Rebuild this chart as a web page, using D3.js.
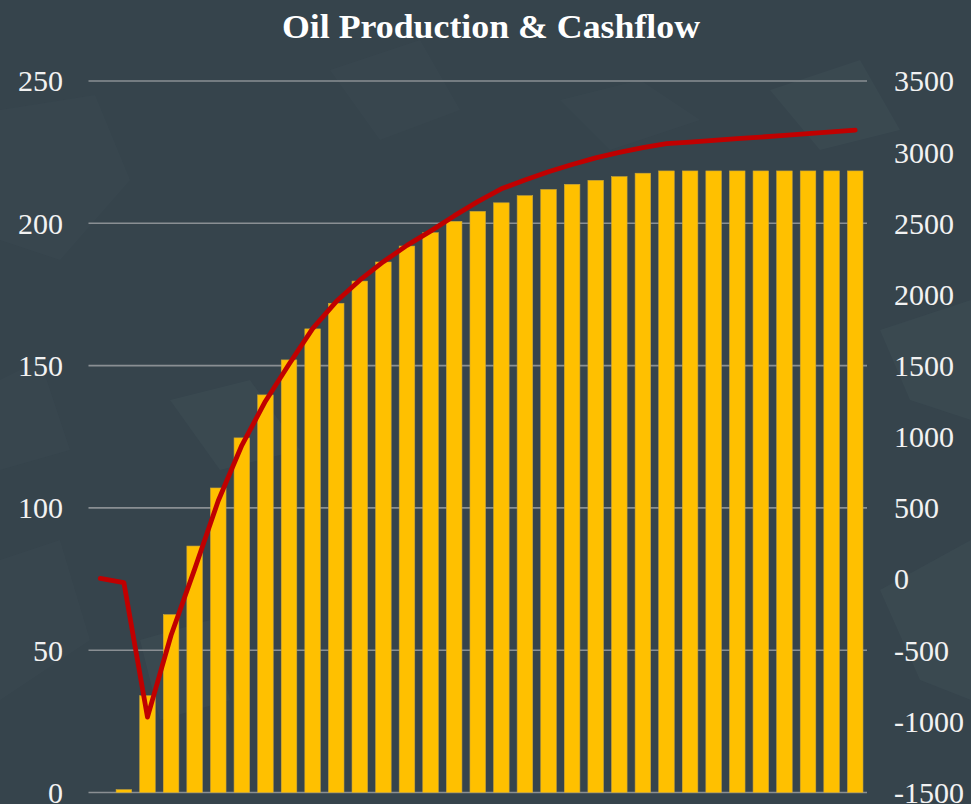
<!DOCTYPE html>
<html>
<head>
<meta charset="utf-8">
<script src="https://cdn.jsdelivr.net/npm/d3@7/dist/d3.min.js"></script>
<style>
  html, body { margin: 0; padding: 0; background: #36444c; }
  svg { display: block; }
</style>
</head>
<body>
<svg id="chart" width="971" height="804"></svg>
<script>
// ---- Data ----
const chartTitle = "Oil Production & Cashflow";
const categories = ["1","2","3","4","5","6","7","8","9","10","11","12","13","14","15","16","17",
                    "18","19","20","21","22","23","24","25","26","27","28","29","30","31","32","33"];
const oilProduction = [0, 1, 34, 62.5, 86.6, 107, 124.6, 139.7, 152, 162.9, 171.9, 179.7, 186.4,
                       192, 196.7, 200.7, 204.2, 207.2, 209.7, 211.9, 213.7, 215.1, 216.4, 217.6,
                       218.4, 218.4, 218.4, 218.4, 218.4, 218.4, 218.4, 218.4, 218.4];
const cashflow = [4, -25, -970, -395, 70, 550, 940, 1250, 1510, 1760, 1950, 2100, 2230, 2345,
                  2445, 2552, 2652, 2742, 2805, 2862, 2913, 2960, 2998, 3032, 3060, 3071, 3083,
                  3095, 3106, 3118, 3130, 3143, 3155];
const leftTicks = [0, 50, 100, 150, 200, 250];
const rightTicks = [-1500, -1000, -500, 0, 500, 1000, 1500, 2000, 2500, 3000, 3500];

// ---- Layout ----
const W = 971, H = 804;
const plot = { left: 88.5, right: 867, top: 81, bottom: 792.5 };
const svg = d3.select("#chart");

// background texture (decorative)
const bg = svg.append("g");
bg.append("rect").attr("width", W).attr("height", H).attr("fill", "#36444c");
const shapes = [
  [[0,110],[95,95],[130,180],[60,260],[0,240]],
  [[170,400],[250,380],[300,450],[220,470]],
  [[0,560],[60,540],[90,640],[0,700]],
  [[880,590],[971,540],[971,700],[920,680]],
  [[560,100],[640,80],[700,120],[610,150]],
  [[770,90],[860,60],[900,130],[820,150]],
  [[330,70],[420,40],[460,110],[380,140]],
  [[880,330],[971,300],[971,420],[910,400]],
  [[0,380],[40,360],[70,450],[0,470]],
  [[140,640],[210,620],[230,700],[160,720]]
];
shapes.forEach((p, i) => {
  bg.append("polygon")
    .attr("points", p.map(d => d.join(",")).join(" "))
    .attr("fill", i % 2 ? "#4a5d63" : "#405258")
    .attr("opacity", 0.2);
});

// ---- Scales ----
const x = d3.scaleBand().domain(categories)
  .range([plot.left, plot.right]).paddingInner(0.34).paddingOuter(0.17);
const yL = d3.scaleLinear().domain([0, 250]).range([plot.bottom, plot.top]);
const yR = d3.scaleLinear().domain([-1500, 3500]).range([plot.bottom, plot.top]);

// gridlines
svg.append("g").selectAll("line").data(leftTicks).join("line")
  .attr("x1", plot.left).attr("x2", plot.right)
  .attr("y1", d => yL(d)).attr("y2", d => yL(d))
  .attr("stroke", "#8a8f93").attr("stroke-width", 1.6);

// left axis
const axisL = d3.axisLeft(yL).tickValues(leftTicks).tickSize(0).tickPadding(0)
  .tickFormat(d => String(d));
const gL = svg.append("g").attr("transform", "translate(63,0)").call(axisL);
gL.select(".domain").remove();
gL.selectAll("text")
  .attr("fill", "#f2f2f2")
  .attr("font-family", "'Liberation Serif', 'DejaVu Serif', serif")
  .attr("font-size", 30)
  .attr("dy", "0.33em");

// right axis
const axisR = d3.axisRight(yR).tickValues(rightTicks).tickSize(0).tickPadding(0)
  .tickFormat(d => String(d));
const gR = svg.append("g").attr("transform", "translate(894,0)").call(axisR);
gR.select(".domain").remove();
gR.selectAll("text")
  .attr("fill", "#f2f2f2")
  .attr("font-family", "'Liberation Serif', 'DejaVu Serif', serif")
  .attr("font-size", 30)
  .attr("dy", "0.33em");

// bars
svg.append("g").selectAll("rect").data(categories).join("rect")
  .attr("x", d => x(d))
  .attr("width", x.bandwidth())
  .attr("y", (d, i) => yL(oilProduction[i]))
  .attr("height", (d, i) => yL(0) - yL(oilProduction[i]))
  .attr("fill", "#ffc000")
  .attr("stroke", "#c9a43a").attr("stroke-width", 0.6);

// cashflow line
const line = d3.line()
  .x((d, i) => x(categories[i]) + x.bandwidth() / 2)
  .y(d => yR(d));
svg.append("path").datum(cashflow)
  .attr("d", line)
  .attr("fill", "none")
  .attr("stroke", "#c00000")
  .attr("stroke-width", 4.8)
  .attr("stroke-linejoin", "round")
  .attr("stroke-linecap", "round");

// title
svg.append("text")
  .attr("x", 491).attr("y", 38)
  .attr("text-anchor", "middle")
  .attr("fill", "#ffffff")
  .attr("font-family", "'Liberation Serif', 'DejaVu Serif', serif")
  .attr("font-weight", "bold")
  .attr("font-size", 34)
  .attr("textLength", 418)
  .attr("lengthAdjust", "spacingAndGlyphs")
  .text(chartTitle);
</script>
</body>
</html>
